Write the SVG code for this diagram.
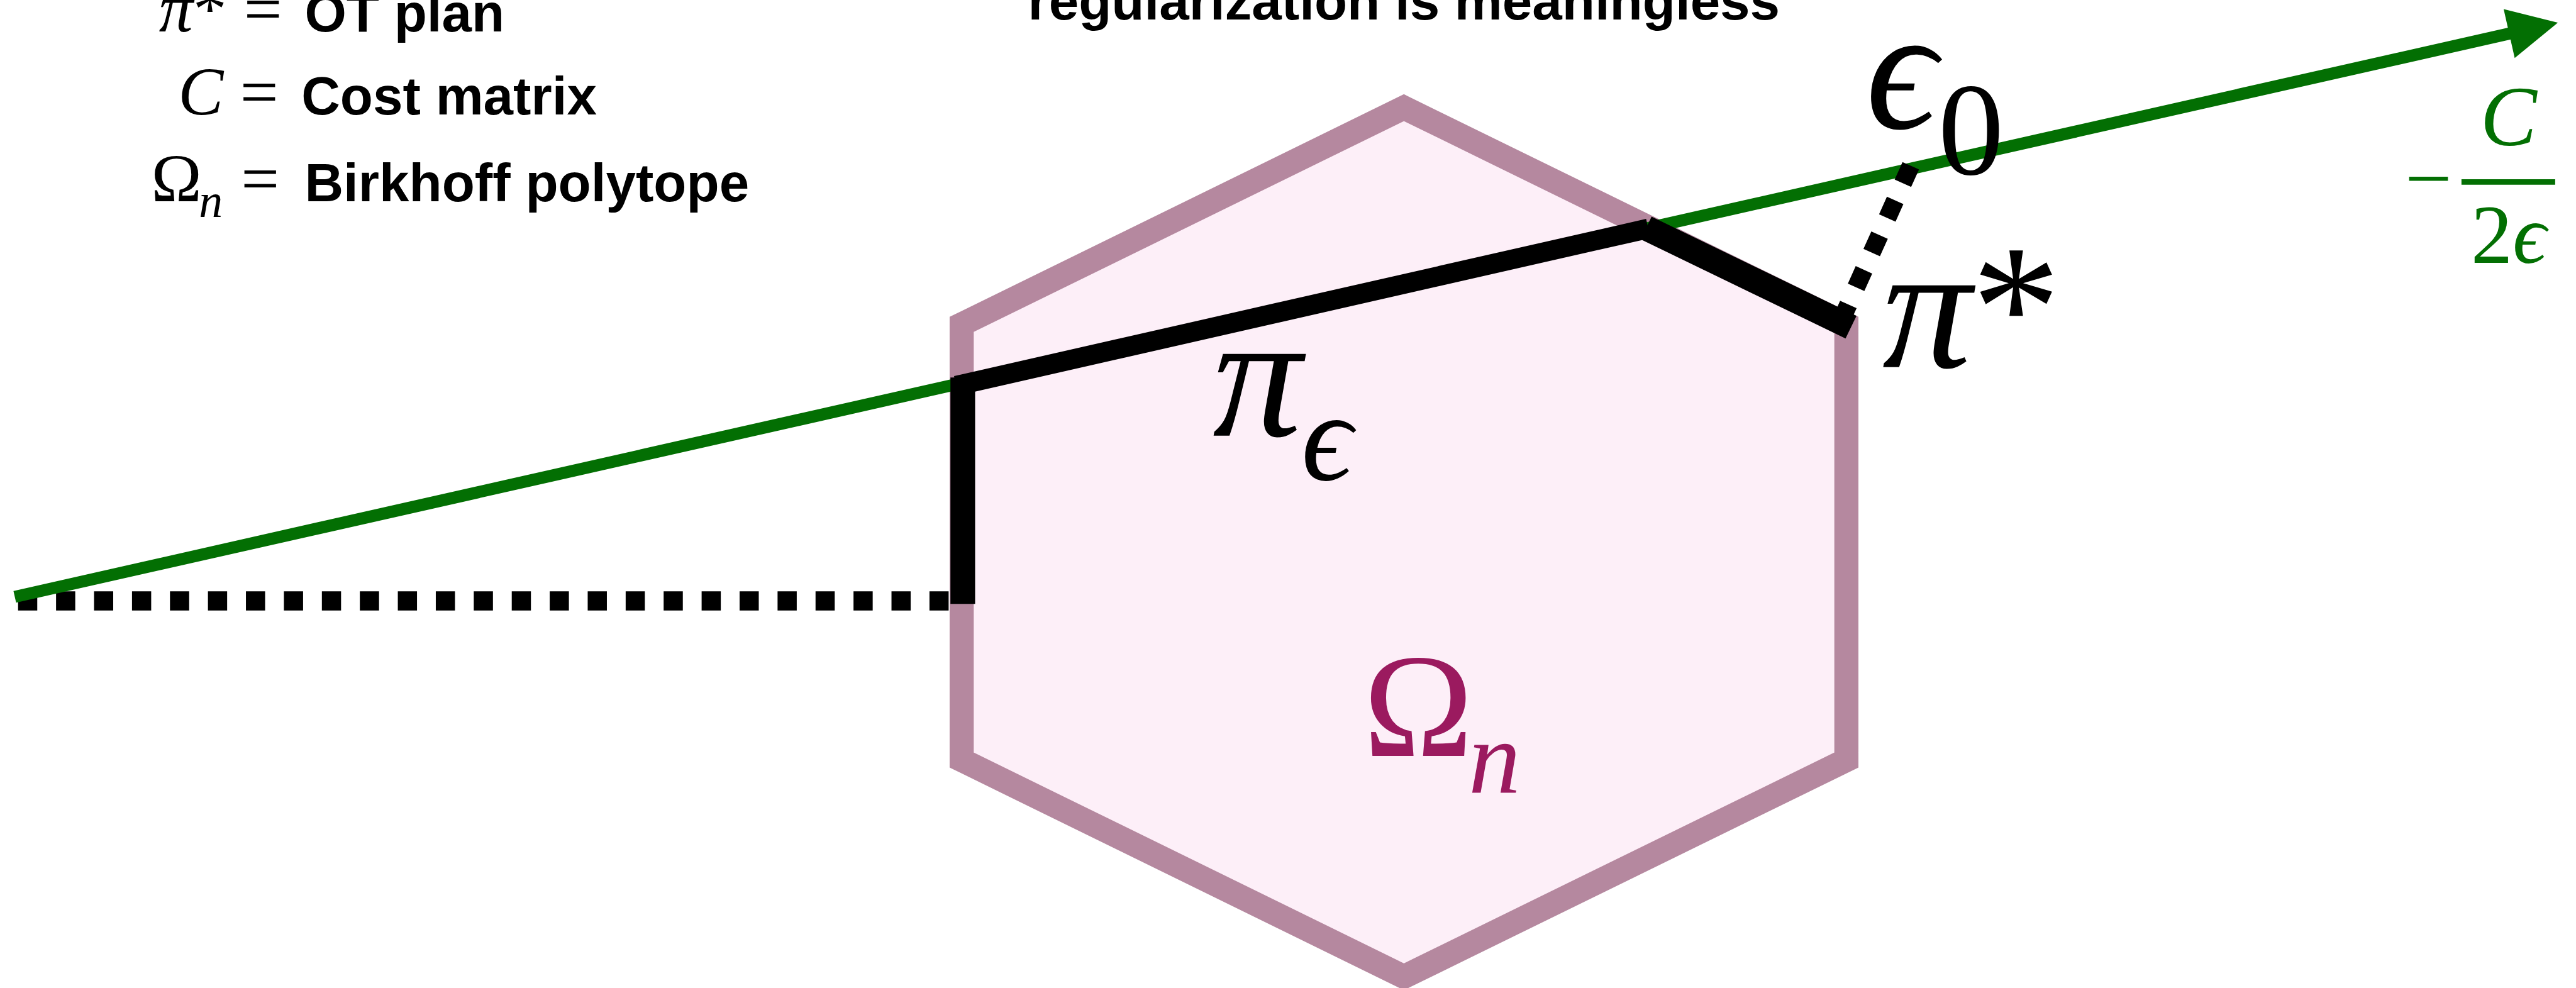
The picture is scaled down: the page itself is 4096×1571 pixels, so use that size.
<svg xmlns="http://www.w3.org/2000/svg" width="4096" height="1571" viewBox="0 0 4096 1571">
<style>
.hex{fill:#fdeff8;stroke:#b5889f;stroke-width:44;stroke-linejoin:miter}
.green{stroke:#036f03;stroke-width:22;fill:none}
.blk{stroke:#000;fill:none;stroke-linecap:butt}
.dash{stroke:#000;fill:none;stroke-width:35;stroke-dasharray:35 34.3}
.dot{stroke:#000;fill:none;stroke-width:33;stroke-dasharray:35 34.4}
.sans{font-family:"Liberation Sans",Arial,sans-serif;font-weight:bold;font-size:98px;fill:#000}
.m{font-family:"Liberation Serif","DejaVu Serif",serif;fill:#000}
.it{font-style:italic}
</style>
<defs>
<marker id="arrow" markerUnits="userSpaceOnUse" markerWidth="92" markerHeight="92" refX="3" refY="45.7" orient="auto" viewBox="0 0 92 92" overflow="visible">
<path d="M0,0 L91,45.7 L0,91.4 Z" fill="#036f03"/>
</marker>
</defs>
<rect x="0" y="0" width="4096" height="1571" fill="#fff"/>
<g transform="scale(0.871304)">
<g id="polytope">
<polygon class="hex" points="2562,196.5 3369.5,592 3369.5,1387 2562,1782.5 1755,1387 1755,592"/>
<text class="m" fill="#9b1a5f" style="fill:#9b1a5f" x="2488" y="1380" font-size="270">Ω</text>
<text class="m it" style="fill:#9b1a5f" x="2680" y="1447" font-size="190">n</text>
</g>
<g id="connectors">
<line class="dash" x1="33" y1="1096.5" x2="1732" y2="1096.5"/>
<line class="green" x1="27" y1="1089.2" x2="4582" y2="60.7" marker-end="url(#arrow)"/>
<line class="blk" stroke-width="45" x1="1757" y1="1102" x2="1757" y2="689"/>
<line class="blk" stroke-width="36" x1="1745" y1="704" x2="3008" y2="417"/>
<line class="dot" x1="3487" y1="302.5" x2="3366" y2="571.5"/>
<line class="blk" stroke-width="46" x1="3004" y1="416" x2="3378" y2="597"/>
</g>
<g id="pi-eps">
<text class="m it" x="2213" y="795" font-size="325">π</text>
<text class="m it" x="2375" y="876" font-size="230">ϵ</text>
</g>
<g id="pi-star">
<text class="m" x="3435" y="670" font-size="325"><tspan class="it">π</tspan>*</text>
</g>
<g id="eps0">
<text class="m it" x="3405" y="234" font-size="320">ϵ</text>
<text class="m" x="3537" y="318" font-size="240">0</text>
</g>
<g id="cost-label">
<text class="m" style="fill:#036f03" x="4389" y="376" font-size="152">−</text>
<line x1="4492" y1="332" x2="4663" y2="332" stroke="#036f03" stroke-width="10"/>
<text class="m it" style="fill:#036f03" x="4578" y="265" font-size="155" text-anchor="middle">C</text>
<text class="m" style="fill:#036f03" x="4578" y="480" font-size="152" text-anchor="middle">2<tspan class="it">ϵ</tspan></text>
</g>
<g id="title">
<text class="sans" x="2562" y="36" text-anchor="middle">regularization is meaningless</text>
</g>
<g id="legend">
<text class="m" x="290" y="57" font-size="124"><tspan class="it">π</tspan>*</text>
<text class="m" x="445" y="57" font-size="124">=</text>
<text class="sans" x="556" y="57">OT plan</text>
<text class="m it" x="325" y="209" font-size="124">C</text>
<text class="m" x="438" y="209" font-size="124">=</text>
<text class="sans" x="550" y="209">Cost matrix</text>
<text class="m" x="276" y="367" font-size="124">Ω</text>
<text class="m it" x="363" y="396" font-size="87">n</text>
<text class="m" x="440" y="367" font-size="124">=</text>
<text class="sans" x="556" y="367" font-size="97">Birkhoff polytope</text>
</g>
</g>
</svg>
